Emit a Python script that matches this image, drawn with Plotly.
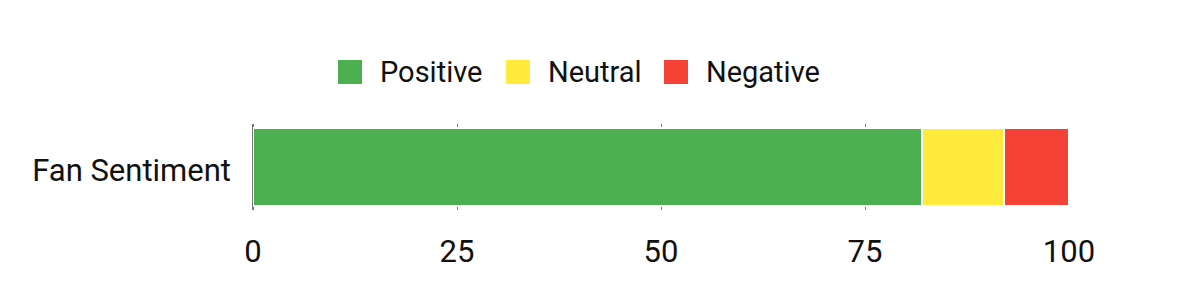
import plotly.graph_objects as go

categories = ["Fan Sentiment"]
series_names = ["Positive", "Neutral", "Negative"]
series_values = [[82], [10], [8]]
series_colors = ["#4CAF50", "#FFEB3B", "#F44336"]
tick_values = [0, 25, 50, 75, 100]
tick_labels = ["0", "25", "50", "75", "100"]

FONT = "Roboto, sans-serif"
W, H = 1200, 300
ML, MR, MT, MB = 253, 131, 124, 90
PW, PH = W - ML - MR, H - MT - MB


def px_x(px):
    return (px - ML) / PW


def px_y(py):
    return (H - MB - py) / PH


fig = go.Figure()
for name, vals, col in zip(series_names, series_values, series_colors):
    fig.add_trace(go.Bar(
        x=vals, y=categories, orientation="h", name=name,
        marker=dict(color=col, line=dict(color="white", width=2)),
        showlegend=False, hoverinfo="x+name",
    ))

# Custom legend: large square swatches + labels (centred row above the plot)
legend_swatch_left = [338, 506, 664]
SW = 24
LEG_CY = 72
for name, col, x0 in zip(series_names, series_colors, legend_swatch_left):
    fig.add_shape(type="rect", xref="paper", yref="paper",
                  x0=px_x(x0), x1=px_x(x0 + SW),
                  y0=px_y(LEG_CY + SW / 2), y1=px_y(LEG_CY - SW / 2),
                  fillcolor=col, line=dict(width=0), layer="above")
    fig.add_annotation(xref="paper", yref="paper",
                       x=px_x(x0 + SW + 16), y=px_y(LEG_CY),
                       xanchor="left", yanchor="middle", showarrow=False,
                       text=name, font=dict(family=FONT, size=29, color="#111111"))

fig.update_layout(
    width=W, height=H,
    barmode="stack", bargap=0.1,
    paper_bgcolor="white", plot_bgcolor="white",
    margin=dict(l=ML, r=MR, t=MT, b=MB, autoexpand=False),
    font=dict(family=FONT, size=30, color="#111111"),
    showlegend=False,
    xaxis=dict(range=[0, 100], tickvals=tick_values, ticktext=tick_labels,
               showgrid=True, gridcolor="#808080", gridwidth=1,
               zeroline=True, zerolinecolor="#7a7a7a", zerolinewidth=2,
               showline=False, ticks="", tickfont=dict(size=31), automargin=False,
               ticklabelstandoff=20, fixedrange=True),
    yaxis=dict(showgrid=False, ticks="", tickfont=dict(size=31), automargin=False,
               ticklabelstandoff=21, ticklabelshift=3, fixedrange=True),
)

fig.write_html("out.html")
